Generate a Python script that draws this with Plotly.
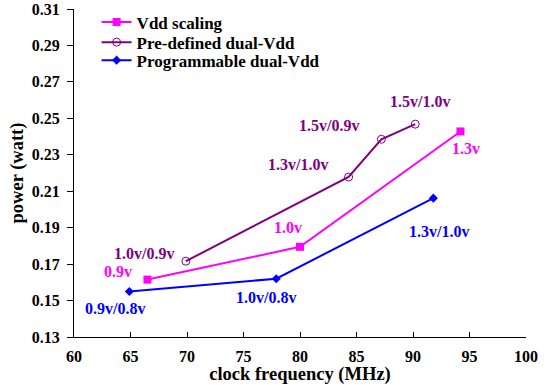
import plotly.graph_objects as go

vdd_x = [66.5, 80.0, 94.2]
vdd_y = [0.1615, 0.1795, 0.2428]
pre_x = [69.9, 84.3, 87.2, 90.2]
pre_y = [0.1716, 0.2178, 0.2385, 0.2468]
prog_x = [64.9, 77.9, 91.8]
prog_y = [0.155, 0.162, 0.2062]

series_names = ["Vdd scaling", "Pre-defined dual-Vdd", "Programmable dual-Vdd"]

labels = [
    ("1.0v/0.9v", 66.2, 0.1760, "#800080"),
    ("0.9v", 63.9, 0.1660, "#FF00FF"),
    ("0.9v/0.8v", 63.6, 0.1458, "#0000FF"),
    ("1.0v/0.8v", 77.0, 0.1518, "#0000FF"),
    ("1.0v", 78.9, 0.1903, "#FF00FF"),
    ("1.3v/1.0v", 79.8, 0.2248, "#800080"),
    ("1.5v/0.9v", 82.6, 0.2463, "#800080"),
    ("1.5v/1.0v", 90.6, 0.2590, "#800080"),
    ("1.3v", 94.7, 0.2336, "#FF00FF"),
    ("1.3v/1.0v", 92.3, 0.1880, "#0000FF"),
]

FONT = "Liberation Serif, Times New Roman, Times, serif"

fig = go.Figure()
fig.add_trace(go.Scatter(x=vdd_x, y=vdd_y, name=series_names[0], mode="lines+markers",
                         legend="legend",
                         line=dict(color="#FF00FF", width=2),
                         marker=dict(symbol="square", size=8, color="#FF00FF")))
fig.add_trace(go.Scatter(x=pre_x, y=pre_y, name=series_names[1], mode="lines+markers",
                         legend="legend2",
                         line=dict(color="#800080", width=2),
                         marker=dict(symbol="circle-open", size=8, color="#800080",
                                     line=dict(width=1))))
fig.add_trace(go.Scatter(x=prog_x, y=prog_y, name=series_names[2], mode="lines+markers",
                         legend="legend3",
                         line=dict(color="#0000FF", width=2),
                         marker=dict(symbol="diamond", size=7, color="#0000FF")))

for text, x, y, c in labels:
    fig.add_annotation(x=x, y=y, xref="x", yref="y", text="<b>" + text + "</b>", showarrow=False,
                       font=dict(family=FONT, size=16, color=c))

legend_font = dict(family=FONT, size=17, color="black", weight="bold")
def leg(y):
    return dict(x=0.05, y=y, xanchor="left", yanchor="top", bgcolor="rgba(0,0,0,0)",
                itemwidth=30, font=legend_font)

fig.update_layout(
    width=553, height=385,
    margin=dict(l=74, r=27, t=9, b=48, autoexpand=False),
    paper_bgcolor="white", plot_bgcolor="white",
    font=dict(family=FONT, size=16, color="black", weight="bold"),
    showlegend=True,
    legend=leg(1.0135),
    legend2=leg(0.9525),
    legend3=leg(0.8975),
    xaxis=dict(range=[60, 100], dtick=5, tick0=60, showgrid=False, zeroline=False,
               showline=True, linecolor="black", linewidth=1,
               ticks="inside", ticklen=5, tickcolor="black",
               ticklabelstandoff=5, automargin=False,
               title=dict(text="clock frequency (MHz)", standoff=2,
                          font=dict(family=FONT, size=18.5, weight="bold"))),
    yaxis=dict(range=[0.13, 0.31], dtick=0.02, tick0=0.13, tickformat=".2f",
               showgrid=False, zeroline=False,
               showline=True, linecolor="black", linewidth=1,
               ticks="outside", ticklen=6, tickcolor="black",
               ticklabelstandoff=4, automargin=False,
               title=dict(text="power (watt)", standoff=3,
                          font=dict(family=FONT, size=18.5, weight="bold"))),
)

fig.write_html("out.html")
